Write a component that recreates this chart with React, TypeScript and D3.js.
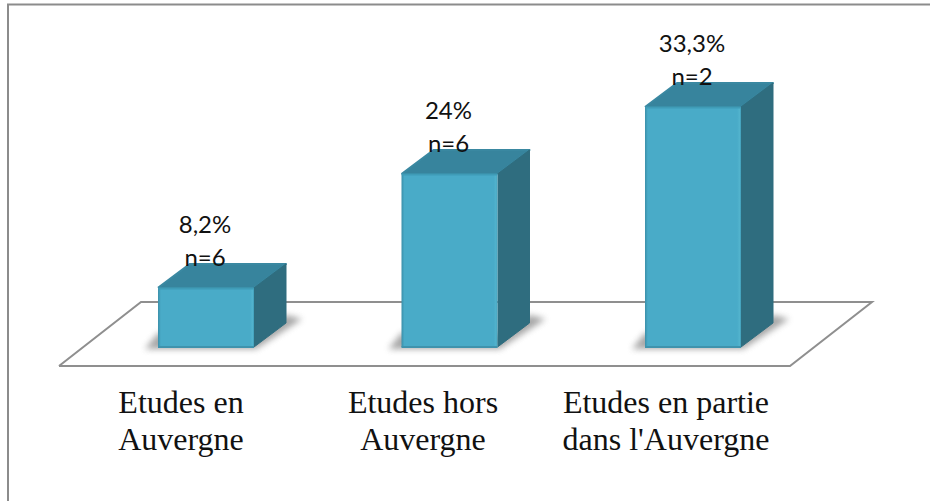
import React from "react";
import * as d3 from "d3";

const categories = [["Etudes en", "Auvergne"], ["Etudes hors", "Auvergne"], ["Etudes en partie", "dans l'Auvergne"]];
const values = [8.2, 24, 33.3];
const pctLabels = ["8,2%", "24%", "33,3%"];
const nLabels = ["n=6", "n=6", "n=2"];

const W = 930, H = 501;
const baseY = 347;
const depthX = 32, depthY = 24;
const barW = 96;
const x = d3.scalePoint<number>().domain([0, 1, 2]).range([206, 693]);
const y = d3.scaleLinear().domain([0, 33.3]).range([baseY, 107]);
const sans = "Lato, 'Open Sans', sans-serif";
const serif = "'Liberation Serif', 'Times New Roman', serif";

export default function App() {
  const line = d3.line();
  return (
    <svg width={W} height={H} style={{ position: "absolute", left: 0, top: 0, background: "#fff" }}>
      <defs>
        <filter id="blur" x="-30%" y="-50%" width="160%" height="200%"><feGaussianBlur stdDeviation="3" /></filter>
        <linearGradient id="front" x1="0" x2="1" y1="0" y2="0">
          <stop offset="0" stopColor="#3b8fa9" />
          <stop offset="0.03" stopColor="#49abc8" />
          <stop offset="0.96" stopColor="#49abc8" />
          <stop offset="0.985" stopColor="#52b3cd" />
          <stop offset="1" stopColor="#3f9cb7" />
        </linearGradient>
      </defs>
      <path d="M8,501V4.5H930" fill="none" stroke="#8c8c8c" strokeWidth={2} />
      <path d={line([[59, 366], [790, 366], [872, 302], [141, 302], [59, 366]]) ?? ""} fill="#fff" stroke="#8f8f8f" strokeWidth={2} />
      {values.map((v, i) => {
        const cx = x(i)!;
        const l = cx - barW / 2, r = cx + barW / 2, t = y(v);
        return (
          <g key={i}>
            <path d={line([[l - 13, baseY + 2], [r + 2, baseY + 2], [r + depthX + 16, baseY - depthY - 4], [r + depthX, baseY - depthY - 8], [r, baseY - 12], [l, baseY - 14]]) ?? ""} fill="#777" opacity={0.65} filter="url(#blur)" />
            <path d={line([[l, t], [l + depthX, t - depthY], [r + depthX, t - depthY], [r, t]]) ?? ""} fill="#37849d" stroke="#3a88a1" strokeWidth={2} strokeLinejoin="round" />
            <path d={line([[r, t], [r + depthX, t - depthY], [r + depthX, baseY - depthY], [r, baseY]]) ?? ""} fill="#2f6d7f" stroke="#2f6d7f" strokeWidth={1} strokeLinejoin="round" />
            <rect x={l} y={t} width={barW} height={baseY - t} fill="url(#front)" />
            <rect x={l} y={t - 0.5} width={barW} height={2} rx={1} fill="#3f9cb7" />
            <rect x={l} y={baseY - 1} width={barW} height={2} fill="#3f93ad" />
            <text x={cx - 1} y={t - 55} textAnchor="middle" fontFamily={sans} fontSize={24} fill="#111">{pctLabels[i]}</text>
            <text x={cx - 1} y={t - 22} textAnchor="middle" fontFamily={sans} fontSize={24} fill="#111">{nLabels[i]}</text>
            {categories[i].map((s, j) => (
              <text key={j} x={[181, 423, 666][i]} y={413 + j * 36.5} textAnchor="middle" fontFamily={serif} fontSize={32} fill="#111">{s}</text>
            ))}
          </g>
        );
      })}
    </svg>
  );
}
